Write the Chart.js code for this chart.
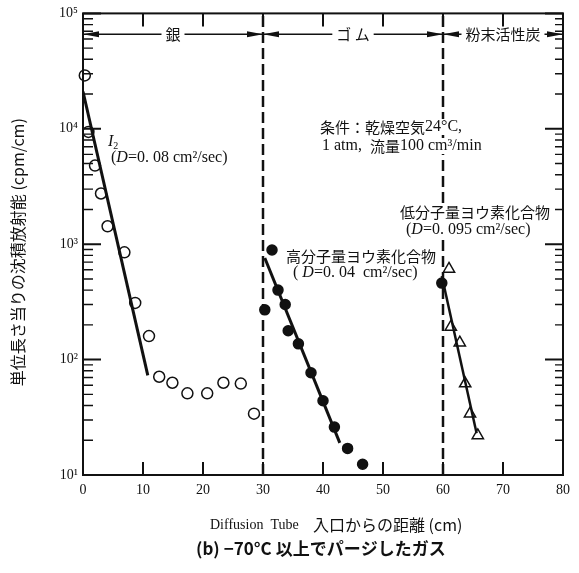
<!DOCTYPE html>
<html>
<head>
<meta charset="utf-8">
<script src="https://cdn.jsdelivr.net/npm/chart.js@4.4.0/dist/chart.umd.min.js"></script>
<style>
  html, body { margin: 0; padding: 0; background: #fff; }
  canvas { display: block; }
</style>
</head>
<body>
<canvas id="chart" width="579" height="573"></canvas>
<script>
// ── DATA ─────────────────────────────────────────────────────────
// 銀 (silver) section, open circles + fitted line
const SILVER_X = [0.3, 0.9, 2.0, 3.0, 4.1, 6.9, 8.7, 11.0, 12.7, 14.9, 17.4, 20.7, 23.4, 26.3, 28.5];
const SILVER_Y = [29000, 9400, 4800, 2750, 1430, 850, 310, 160, 71, 63, 51, 51, 63, 62, 34];
const SILVER_FIT_X = [0, 10.8];
const SILVER_FIT_Y = [21000, 73];

// ゴム (rubber) section, filled circles + fitted line
const RUBBER_X = [30.3, 31.5, 32.5, 33.7, 34.2, 35.9, 38.0, 40.0, 41.9, 44.1, 46.6, 59.8];
const RUBBER_Y = [270, 890, 400, 300, 178, 137, 77, 44, 26, 17, 12.4, 460];
const RUBBER_FIT_X = [30.3, 42.8];
const RUBBER_FIT_Y = [760, 19];

// 粉末活性炭 (charcoal) section, open triangles + fitted line
const CHARCOAL_X = [61.0, 61.3, 62.8, 63.7, 64.5, 65.8];
const CHARCOAL_Y = [610, 192, 140, 62, 34, 22];
const CHARCOAL_FIT_X = [59.8, 65.6];
const CHARCOAL_FIT_Y = [530, 23];

// section boundaries and labels along the top
const BOUNDARY_X = [30, 60];
const REGION_EDGES = [0, 30, 60, 80];
const REGION_LABELS = ['銀', 'ゴ ム', '粉末活性炭'];
const REGION_Y = 66000;

// axes
const X_TICKS = [0, 10, 20, 30, 40, 50, 60, 70, 80];
const Y_TICKS = [10, 100, 1000, 10000, 100000];
const Y_TICK_LABELS = ['10¹', '10²', '10³', '10⁴', '10⁵'];

const Y_TITLE = '単位長さ当りの沈積放射能 (cpm/cm)\u3000';
const X_TITLE = 'Diffusion  Tube';
const X_TITLE_JP = '入口からの距離 (cm)';
const CAPTION = '(b) −70°C 以上でパージしたガス';

const SERIF = '"Liberation Serif", "DejaVu Serif", serif';
const CJK = '"Noto Sans CJK JP", "Noto Sans", sans-serif';
const INK = '#111';

const pts = (xs, ys) => xs.map((x, i) => ({ x, y: ys[i] }));

// ── TEXT NOTES (runs: text, font, dy) ────────────────────────────
const s16 = '16px ' + SERIF;
const i16 = 'italic 16px ' + SERIF;
const j15 = '15px ' + CJK;
const NOTES = [
    { x: 108, y: 142, runs: [['I', 'italic 16px ' + SERIF], ['2', '10px ' + SERIF, 4]] },
    { x: 111, y: 158, runs: [['(', s16], ['D', i16], ['=0. 08 cm²/sec)', s16]] },
    { x: 320, y: 127, runs: [['条件：乾燥空気', j15], ['24°C,', s16]] },
    { x: 322, y: 146, runs: [['1 atm,  ', s16], ['流量', j15], ['100 cm³/min', s16]] },
    { x: 286, y: 256, runs: [['高分子量ヨウ素化合物', j15]] },
    { x: 293, y: 273, runs: [['( ', s16], ['D', i16], ['=0. 04  cm²/sec)', s16]] },
    { x: 400, y: 212, runs: [['低分子量ヨウ素化合物', j15]] },
    { x: 406, y: 230, runs: [['(', s16], ['D', i16], ['=0. 095 cm²/sec)', s16]] }
];

// ── HELPERS ──────────────────────────────────────────────────────
function runsWidth(ctx, runs) {
    return runs.reduce((w, [text, font]) => { ctx.font = font; return w + ctx.measureText(text).width; }, 0);
}

function drawRuns(ctx, runs, x, y) {
    runs.forEach(([text, font, dy]) => {
        ctx.font = font;
        ctx.fillText(text, x, y + (dy || 0));
        x += ctx.measureText(text).width;
    });
}

// inward tick marks on all four sides + frame
const frameTicks = {
    id: 'frameTicks',
    afterDatasetsDraw(chart) {
        const { ctx, chartArea: a, scales: { x, y } } = chart;
        ctx.save();
        ctx.strokeStyle = INK;
        ctx.lineWidth = 2;
        ctx.strokeRect(a.left, a.top, a.right - a.left, a.bottom - a.top);

        ctx.beginPath();
        Y_TICKS.forEach(v => {
            const py = y.getPixelForValue(v);
            ctx.moveTo(a.left, py); ctx.lineTo(a.left + 18, py);
            ctx.moveTo(a.right, py); ctx.lineTo(a.right - 18, py);
        });
        X_TICKS.slice(1, -1).forEach(v => {
            const px = x.getPixelForValue(v);
            ctx.moveTo(px, a.top); ctx.lineTo(px, a.top + 13);
            ctx.moveTo(px, a.bottom); ctx.lineTo(px, a.bottom - 13);
        });
        ctx.stroke();

        ctx.lineWidth = 1.4;
        ctx.beginPath();
        Y_TICKS.slice(0, -1).forEach(dec => {
            for (let m = 2; m <= 9; m++) {
                const py = y.getPixelForValue(dec * m);
                ctx.moveTo(a.left, py); ctx.lineTo(a.left + 10, py);
                ctx.moveTo(a.right, py); ctx.lineTo(a.right - 8, py);
            }
        });
        ctx.stroke();
        ctx.restore();
    }
};

// white gaps in the dashed boundary lines behind the notes
const noteGaps = {
    id: 'noteGaps',
    afterDatasetDraw(chart, args) {
        if (!chart.data.datasets[args.index].boundary) return;
        const ctx = chart.ctx;
        ctx.save();
        ctx.fillStyle = '#fff';
        NOTES.forEach(n => {
            ctx.fillRect(n.x - 2, n.y - 8, runsWidth(ctx, n.runs) + 4, 16);
        });
        ctx.restore();
    }
};

// section arrows along the top, notes and bottom titles
const annotations = {
    id: 'annotations',
    afterDraw(chart) {
        const { ctx, scales: { x, y } } = chart;
        ctx.save();
        ctx.fillStyle = INK;
        ctx.strokeStyle = INK;
        ctx.textBaseline = 'middle';

        // ── section arrows ──
        const py = y.getPixelForValue(REGION_Y);
        ctx.lineWidth = 1.4;
        REGION_LABELS.forEach((label, i) => {
            const x0 = x.getPixelForValue(REGION_EDGES[i]);
            const x1 = x.getPixelForValue(REGION_EDGES[i + 1]);
            const cx = (x0 + x1) / 2;
            ctx.font = '15px ' + CJK;
            const w = ctx.measureText(label).width;
            ctx.textAlign = 'center';
            ctx.fillText(label, cx, py);
            ctx.beginPath();
            ctx.moveTo(x0, py); ctx.lineTo(cx - w / 2 - 4, py);
            ctx.moveTo(cx + w / 2 + 4, py); ctx.lineTo(x1, py);
            ctx.stroke();
            ctx.beginPath();
            ctx.moveTo(x0, py); ctx.lineTo(x0 + 16, py - 3); ctx.lineTo(x0 + 16, py + 3);
            ctx.closePath();
            ctx.moveTo(x1, py); ctx.lineTo(x1 - 16, py - 3); ctx.lineTo(x1 - 16, py + 3);
            ctx.closePath();
            ctx.fill();
        });

        ctx.textAlign = 'left';
        NOTES.forEach(n => drawRuns(ctx, n.runs, n.x, n.y));

        // x title + caption
        drawRuns(ctx, [[X_TITLE, '14px ' + SERIF]], 210, 525);
        drawRuns(ctx, [[X_TITLE_JP, '16px ' + CJK]], 313, 525);
        ctx.font = 'bold 17px ' + CJK;
        ctx.fillText(CAPTION, 196, 549);

        ctx.restore();
    }
};

// ── CHART ────────────────────────────────────────────────────────
const markerBase = { showLine: false, clip: false, order: 2, borderColor: INK, borderWidth: 1.5 };
const fitBase = { showLine: true, pointRadius: 0, borderColor: INK, borderWidth: 3, order: 1 };

new Chart(document.getElementById('chart'), {
    type: 'scatter',
    data: {
        datasets: [
            { ...markerBase, data: pts(SILVER_X, SILVER_Y), pointStyle: 'circle', pointRadius: 5.5, backgroundColor: '#fff' },
            { ...fitBase, data: pts(SILVER_FIT_X, SILVER_FIT_Y) },
            { ...markerBase, data: pts(RUBBER_X, RUBBER_Y), pointStyle: 'circle', pointRadius: 5, backgroundColor: INK },
            { ...fitBase, data: pts(RUBBER_FIT_X, RUBBER_FIT_Y) },
            { ...markerBase, data: pts(CHARCOAL_X, CHARCOAL_Y), pointStyle: 'triangle', pointRadius: 6.5, backgroundColor: '#fff' },
            { ...fitBase, data: pts(CHARCOAL_FIT_X, CHARCOAL_FIT_Y), borderWidth: 2.5 },
            ...BOUNDARY_X.map(bx => ({
                boundary: true,
                data: [{ x: bx, y: Y_TICKS[0] }, { x: bx, y: Y_TICKS[Y_TICKS.length - 1] }],
                showLine: true, pointRadius: 0, borderColor: INK, borderWidth: 2.5,
                borderDash: [11, 5], order: 3
            }))
        ]
    },
    options: {
        responsive: false,
        animation: false,
        devicePixelRatio: 1,
        layout: { padding: { left: 0, right: 16, top: 11, bottom: 73 } },
        plugins: { legend: { display: false }, tooltip: { enabled: false } },
        scales: {
            x: {
                type: 'linear',
                min: 0, max: 80,
                afterFit: s => { s.height = 25; },
                afterBuildTicks: s => { s.ticks = X_TICKS.map(v => ({ value: v })); },
                grid: { display: false, drawTicks: false },
                border: { display: false },
                ticks: { color: INK, padding: 7, font: { family: SERIF, size: 14 } }
            },
            y: {
                type: 'logarithmic',
                min: Y_TICKS[0], max: Y_TICKS[Y_TICKS.length - 1],
                afterFit: s => { s.width = 83; },
                afterBuildTicks: s => { s.ticks = Y_TICKS.map(v => ({ value: v })); },
                grid: { display: false, drawTicks: false },
                border: { display: false },
                ticks: {
                    color: INK, padding: 5, autoSkip: false,
                    font: { family: SERIF, size: 14 },
                    callback: v => Y_TICK_LABELS[Y_TICKS.indexOf(v)]
                },
                title: {
                    display: true,
                    text: Y_TITLE,
                    color: INK,
                    padding: { top: 8, bottom: 0 },
                    font: { family: CJK, size: 16 }
                }
            }
        }
    },
    plugins: [frameTicks, noteGaps, annotations]
});
</script>
</body>
</html>
